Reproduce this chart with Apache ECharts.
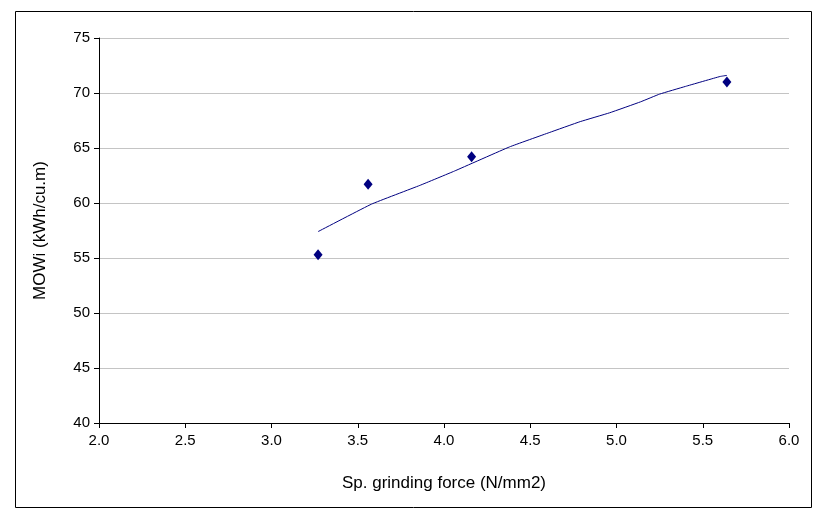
<!DOCTYPE html>
<html><head><meta charset="utf-8">
<script src="https://cdn.jsdelivr.net/npm/echarts@6/dist/echarts.min.js"></script>
<style>html,body{margin:0;padding:0;background:#fff}#c{width:814px;height:518px}</style>
</head><body><div id="c"></div>
<script>
var xTitle = "Sp. grinding force (N/mm2)";
var yTitle = "MOWi (kWh/cu.m)";
var pointX = [3.27, 3.56, 4.16, 5.64];
var pointY = [55.3, 61.7, 64.2, 71.0];
var trendX = [3.27, 3.58, 3.86, 4.06, 4.38, 4.61, 4.79, 4.96, 5.14, 5.25, 5.40, 5.60, 5.64];
var trendY = [57.4, 59.9, 61.6, 62.9, 65.1, 66.4, 67.4, 68.2, 69.2, 69.9, 70.6, 71.5, 71.6];

var pts = pointX.map(function(x,i){return [x, pointY[i]];});
var trend = trendX.map(function(x,i){return [x, trendY[i]];});
var chart = echarts.init(document.getElementById('c'), null, {renderer:'canvas'});
var font = 'Liberation Sans, Arial, sans-serif';
chart.setOption({
  animation:false,
  grid:{left:99, right:25, top:38, bottom:95, containLabel:false},
  graphic:[{type:'rect', shape:{x:15.5, y:11.5, width:796, height:496}, style:{fill:'none', stroke:'#000', lineWidth:1}, silent:true}],
  xAxis:{type:'value', min:2, max:6, interval:0.5,
    name:xTitle, nameLocation:'middle', nameGap:52,
    nameTextStyle:{fontFamily:font, fontSize:17, color:'#000'},
    axisLine:{show:true, lineStyle:{color:'#000', width:1}},
    axisTick:{show:true, inside:false, length:5, lineStyle:{color:'#000'}},
    axisLabel:{fontFamily:font, fontSize:15, color:'#000', margin:10, formatter:function(v){return v.toFixed(1);}},
    splitLine:{show:false}},
  yAxis:{type:'value', min:40, max:75, interval:5,
    name:yTitle, nameLocation:'middle', nameGap:50, nameRotate:90,
    nameTextStyle:{fontFamily:font, fontSize:17, color:'#000'},
    axisLine:{show:true, lineStyle:{color:'#000', width:1}},
    axisTick:{show:true, inside:false, length:5, lineStyle:{color:'#000'}},
    axisLabel:{fontFamily:font, fontSize:15, color:'#000', margin:9},
    splitLine:{show:true, lineStyle:{color:'#c4c4c4', width:1}}},
  series:[
    {type:'line', data:trend, smooth:0.1, showSymbol:false, symbol:'none',
     lineStyle:{color:'#000080', width:1}, z:2},
    {type:'scatter', data:pts, symbol:'diamond', symbolSize:[9,11],
     itemStyle:{color:'#000080', opacity:1}, z:3}
  ]
});
</script></body></html>
